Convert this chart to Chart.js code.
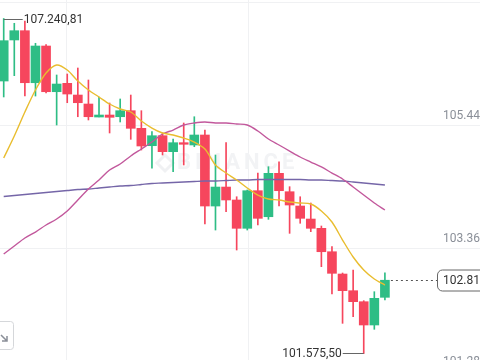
<!DOCTYPE html>
<html>
<head>
<meta charset="utf-8">
<script src="https://cdn.jsdelivr.net/npm/chart.js@4.4.0/dist/chart.umd.min.js"></script>
<style>
  html, body { margin: 0; padding: 0; background: #fff; }
</style>
</head>
<body>
<canvas id="chart" width="480" height="360"></canvas>
<script>
'use strict'

// candles, oldest first
var opens  = [106184, 106878, 107035, 106155, 106776, 106003, 106145, 105947, 105795, 105575,
              105609, 105580, 105682, 105384, 105090, 105259, 104989, 105141, 105102, 105271,
              104070, 104391, 104172, 103693, 104329, 103889, 104623, 104312, 104070, 103850,
              103693, 103297, 102920, 102638, 102452, 102058, 102526]
var highs  = [107240.81, 107160, 107199, 106822, 106800, 106286, 106303, 106404, 106201, 105914,
              105812, 105880, 105947, 105682, 105327, 105305, 105203, 105474, 105580, 105355,
              104933, 105141, 104227, 104341, 104628, 104735, 104819, 104397, 104227, 104121,
              103732, 103382, 102937, 102988, 102469, 102621, 102942]
var lows   = [105914, 106274, 105930, 105930, 105981, 105440, 105817, 105580, 105525, 105575,
              105305, 105491, 105198, 105017, 104708, 104933, 104650, 104764, 105073, 103766,
              103664, 103974, 103326, 103664, 103749, 103845, 104070, 103608, 103778, 103636,
              103044, 102582, 102086, 102198, 101575.50, 101985, 102480]
var closes = [106866, 107035, 106155, 106776, 106003, 106133, 105964, 105817, 105580, 105609,
              105570, 105682, 105384, 105085, 105259, 104989, 105141, 105114, 105271, 104070,
              104391, 104172, 103693, 104329, 103862, 104623, 104329, 104087, 103862, 103693,
              103297, 102932, 102638, 102452, 102058, 102509, 102815]

// moving averages
var ma7  = [104882, 105254, 105660, 106032, 106319, 106455, 106370, 106184, 106032, 105914,
            105795, 105711, 105660, 105508, 105389, 105305, 105271, 105220, 105152, 105034,
            104764, 104628, 104510, 104375, 104256, 104189, 104172, 104138, 104121, 104104,
            103986, 103800, 103495, 103208, 102988, 102836, 102734]
var ma25 = [103258, 103394, 103529, 103630, 103749, 103850, 103986, 104172, 104358, 104510,
            104679, 104780, 104916, 105034, 105152, 105288, 105355, 105440, 105474, 105491,
            105474, 105474, 105457, 105440, 105339, 105203, 105102, 105000, 104899, 104814,
            104730, 104628, 104527, 104391, 104256, 104121, 104002]
var ma99 = [104231, 104248, 104265, 104282, 104298, 104315, 104332, 104349, 104358, 104375,
            104391, 104408, 104417, 104434, 104451, 104459, 104468, 104476, 104485, 104493,
            104493, 104501, 104510, 104510, 104518, 104518, 104518, 104518, 104518, 104510,
            104510, 104501, 104493, 104476, 104459, 104442, 104425]

var priceTicks = [107520, 105440, 103360, 101280]
var timeGrid = [5.88, 23.07]

var UP = '#2ebd85'
var DOWN = '#f6465d'

function fmt(v) {
  var parts = v.toFixed(2).split('.')
  return parts[0].replace(/\B(?=(\d{3})+(?!\d))/g, '.') + ',' + parts[1]
}

var bodies = [], wicks = [], colors = []
var line7 = [], line25 = [], line99 = []
for (var i = 0; i < opens.length; i++) {
  bodies.push({ x: i, y: [Math.min(opens[i], closes[i]), Math.max(opens[i], closes[i])] })
  wicks.push({ x: i, y: [lows[i], highs[i]] })
  colors.push(closes[i] >= opens[i] ? UP : DOWN)
  line7.push({ x: i, y: ma7[i] })
  line25.push({ x: i, y: ma25[i] })
  line99.push({ x: i, y: ma99[i] })
}

function maLine(data, color) {
  return { type: 'line', data: data, borderColor: color, borderWidth: 1.4,
           pointRadius: 0, tension: 0.3, fill: false, order: 0 }
}

var overlay = {
  id: 'overlay',
  beforeDatasetsDraw: function(chart) {
    var ctx = chart.ctx, xs = chart.scales.x, ys = chart.scales.y
    ctx.save()
    ctx.strokeStyle = '#f0f1f3'
    ctx.lineWidth = 1
    priceTicks.forEach(function(v) {
      var py = Math.round(ys.getPixelForValue(v)) + 0.5
      ctx.beginPath(); ctx.moveTo(0, py); ctx.lineTo(480, py); ctx.stroke()
    })
    timeGrid.forEach(function(v) {
      var px = Math.round(xs.getPixelForValue(v)) + 0.5
      ctx.beginPath(); ctx.moveTo(px, 0); ctx.lineTo(px, 360); ctx.stroke()
    })
    // watermark
    ctx.fillStyle = '#f2f3f5'
    ctx.font = 'bold 22px Roboto'
    ctx.letterSpacing = '4px'
    ctx.textBaseline = 'middle'
    ctx.fillText('BINANCE', 177, 163)
    ctx.letterSpacing = '0px'
    ctx.strokeStyle = '#f0f1f3'
    ctx.lineWidth = 3
    ctx.beginPath()
    ctx.moveTo(165, 155); ctx.lineTo(173, 163); ctx.lineTo(165, 171); ctx.lineTo(157, 163); ctx.closePath()
    ctx.stroke()
    ctx.restore()
  },
  afterDatasetsDraw: function(chart) {
    var ctx = chart.ctx, xs = chart.scales.x, ys = chart.scales.y
    ctx.save()
    ctx.font = '12px Roboto'
    ctx.textBaseline = 'middle'

    // price axis labels
    ctx.fillStyle = '#8a8f98'
    ctx.textAlign = 'left'
    priceTicks.forEach(function(v) {
      ctx.fillText(fmt(v), 443, ys.getPixelForValue(v) - 9)
    })

    // highest / lowest markers
    var hi = 0, lo = 0
    for (var i = 1; i < highs.length; i++) {
      if (highs[i] > highs[hi]) hi = i
      if (lows[i] < lows[lo]) lo = i
    }
    ctx.strokeStyle = '#666'
    ctx.lineWidth = 1
    ctx.fillStyle = '#333'
    var hx = xs.getPixelForValue(hi), hy = Math.round(ys.getPixelForValue(highs[hi])) + 0.5
    ctx.beginPath(); ctx.moveTo(hx, hy); ctx.lineTo(hx + 19, hy); ctx.stroke()
    ctx.fillText(fmt(highs[hi]), hx + 20, hy)
    var lx = xs.getPixelForValue(lo), ly = Math.round(ys.getPixelForValue(lows[lo])) - 0.5
    ctx.beginPath(); ctx.moveTo(lx, ly); ctx.lineTo(lx - 21, ly); ctx.stroke()
    ctx.textAlign = 'right'
    ctx.fillText(fmt(lows[lo]), lx - 22, ly)

    // last price line and tag
    var last = closes.length - 1
    var py = Math.round(ys.getPixelForValue(closes[last])) + 0.5
    var px = xs.getPixelForValue(last) + 6
    ctx.setLineDash([2, 3])
    ctx.strokeStyle = '#555'
    ctx.beginPath(); ctx.moveTo(px, py); ctx.lineTo(437, py); ctx.stroke()
    ctx.setLineDash([])
    ctx.fillStyle = '#fff'
    ctx.beginPath()
    ctx.roundRect(437.5, py - 10.5, 60, 21, 5)
    ctx.fill()
    ctx.strokeStyle = '#666'
    ctx.stroke()
    ctx.fillStyle = '#333'
    ctx.textAlign = 'left'
    ctx.fillText(fmt(closes[last]), 443, py)

    // corner button
    ctx.strokeStyle = '#d5d7da'
    ctx.beginPath()
    ctx.roundRect(-6.5, 321.5, 20, 28, 3)
    ctx.stroke()
    ctx.strokeStyle = '#8a8f98'
    ctx.lineWidth = 1.5
    ctx.beginPath()
    ctx.moveTo(1, 335); ctx.lineTo(7, 341)
    ctx.moveTo(7, 336); ctx.lineTo(7, 341); ctx.lineTo(2, 341)
    ctx.stroke()
    ctx.restore()
  }
}

new Chart(document.getElementById('chart').getContext('2d'), {
  type: 'bar',
  data: {
    datasets: [
      maLine(line7, '#e9bd2f'),
      maLine(line25, '#c2589c'),
      maLine(line99, '#7566a8'),
      { type: 'bar', data: bodies, backgroundColor: colors, barThickness: 9,
        grouped: false, borderWidth: 0, order: 1 },
      { type: 'bar', data: wicks, backgroundColor: colors, barThickness: 1,
        grouped: false, borderWidth: 0, order: 2 }
    ]
  },
  options: {
    responsive: false,
    animation: false,
    devicePixelRatio: 1,
    layout: { padding: 0 },
    scales: {
      x: { type: 'linear', display: false, offset: false, grid: { offset: false },
           min: -0.35, max: 44.98 },
      y: { display: false, min: 101466, max: 107554 }
    },
    plugins: { legend: { display: false }, tooltip: { enabled: false } }
  },
  plugins: [overlay]
})
</script>
</body>
</html>
